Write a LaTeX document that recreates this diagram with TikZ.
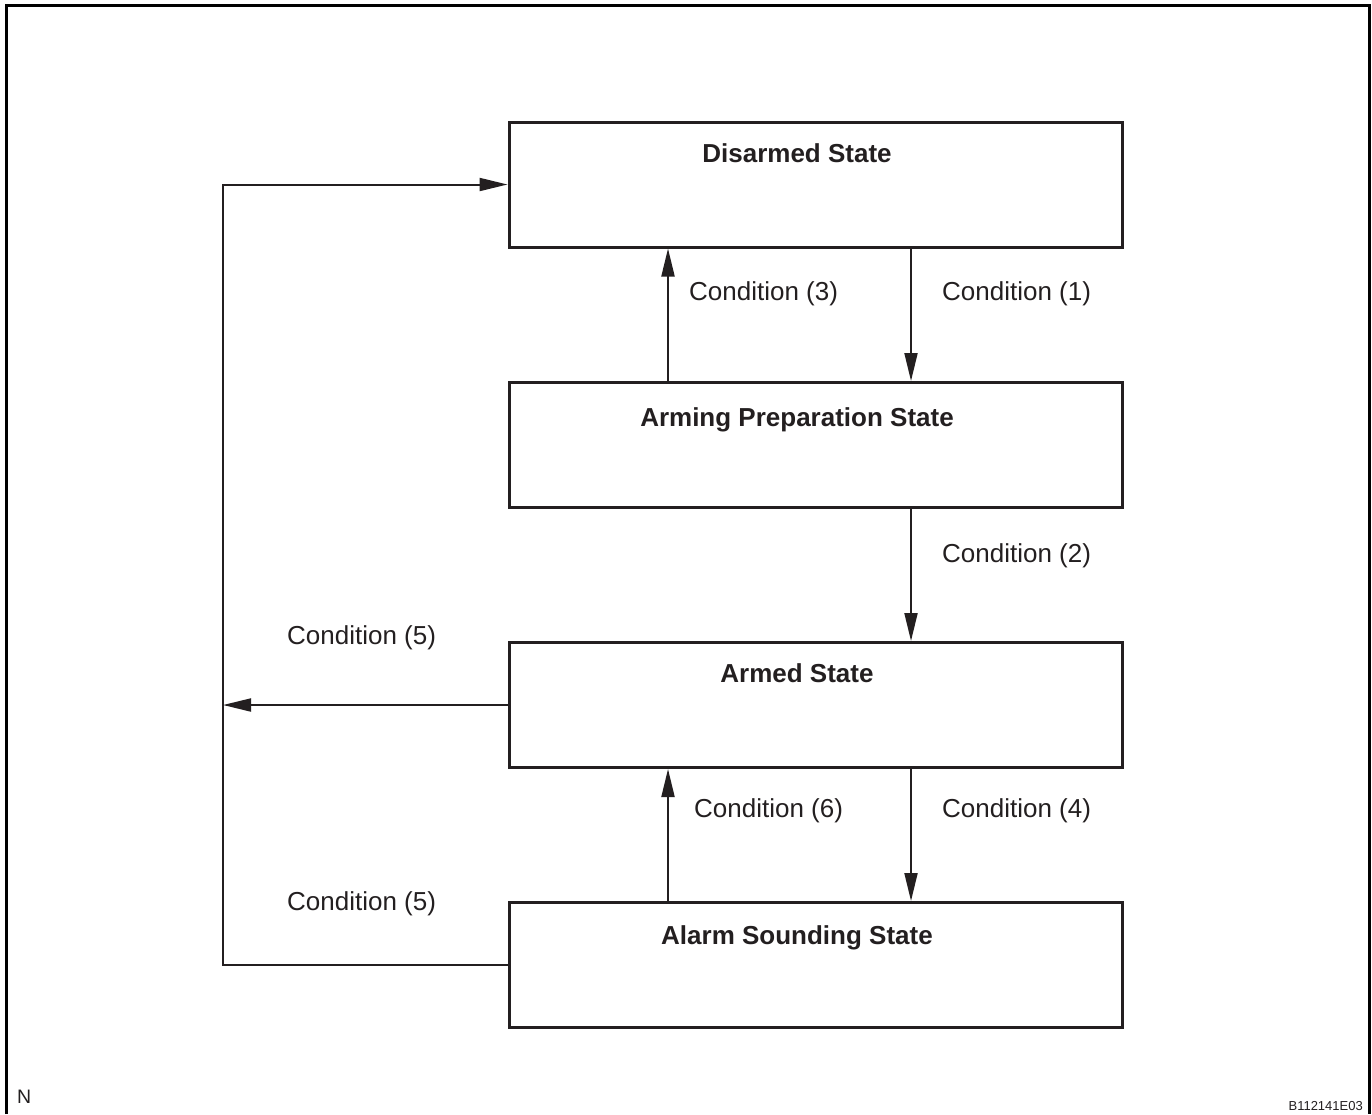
\documentclass[tikz,border=0pt]{standalone}
\usepackage{fontspec}
\setmainfont{Liberation Sans}
\usetikzlibrary{arrows.meta}
\definecolor{ink}{HTML}{231F20}
\tikzset{
  statebox/.style={draw=ink, line width=3pt, minimum width=613pt, minimum height=125pt, inner sep=0pt},
  title/.style={anchor=base, inner sep=0pt, text=ink, font=\fontsize{26}{30}\selectfont\bfseries},
  cond/.style={anchor=base west, inner sep=0pt, text=ink, font=\fontsize{26}{30}\selectfont},
  arr/.style={draw=ink, line width=2pt, -{Triangle[length=28pt,width=13pt]}},
  link/.style={draw=ink, line width=2pt},
}
\begin{document}
\begin{tikzpicture}[x=1pt,y=-1pt]
\useasboundingbox (0,0) rectangle (1372,1114);
% outer frame, open at the bottom
\draw[line width=3pt] (6,1114) -- (6,5) -- (1369,5) -- (1369,1114);

% state boxes
\node[statebox] (dis) at (815.5,184.5) {};
\node[statebox] (prep) at (815.5,445) {};
\node[statebox] (arm) at (815.5,705) {};
\node[statebox] (alarm) at (815.5,965) {};

% state titles
\node[title] (tdis) at (797,162) {Disarmed State};
\node[title] (tprep) at (797,426) {Arming Preparation State};
\node[title] (tarm) at (797,682) {Armed State};
\node[title] (talarm) at (797,944) {Alarm Sounding State};

% transitions between neighbouring states
\draw[arr] ([xshift=95.5pt]dis.south) -- ([xshift=95.5pt]prep.north);
\draw[arr] ([xshift=-147.5pt]prep.north) -- ([xshift=-147.5pt]dis.south);
\draw[arr] ([xshift=95.5pt]prep.south) -- ([xshift=95.5pt]arm.north);
\draw[arr] ([xshift=95.5pt]arm.south) -- ([xshift=95.5pt]alarm.north);
\draw[arr] ([xshift=-147.5pt]alarm.north) -- ([xshift=-147.5pt]arm.south);

% return path to the disarmed state
\coordinate (corner) at (223,965);
\draw[arr] (alarm.west) -- (corner) |- (dis.west);
\draw[arr] (arm.west) -- (arm.west -| corner);

% condition labels
\node[cond] (c3) at (689,300) {Condition (3)};
\node[cond] (c1) at (942,300) {Condition (1)};
\node[cond] (c2) at (942,562) {Condition (2)};
\node[cond] (c5a) at (287,644) {Condition (5)};
\node[cond] (c6) at (694,817) {Condition (6)};
\node[cond] (c4) at (942,817) {Condition (4)};
\node[cond] (c5b) at (287,910) {Condition (5)};

% corner marks
\node[anchor=base west, inner sep=0pt, text=ink, font=\fontsize{19.5}{22}\selectfont] (mark) at (17,1103) {N};
\node[anchor=base east, inner sep=0pt, text=ink, font=\fontsize{13}{15}\selectfont] (code) at (1363,1110) {B112141E03};
\end{tikzpicture}
\end{document}
